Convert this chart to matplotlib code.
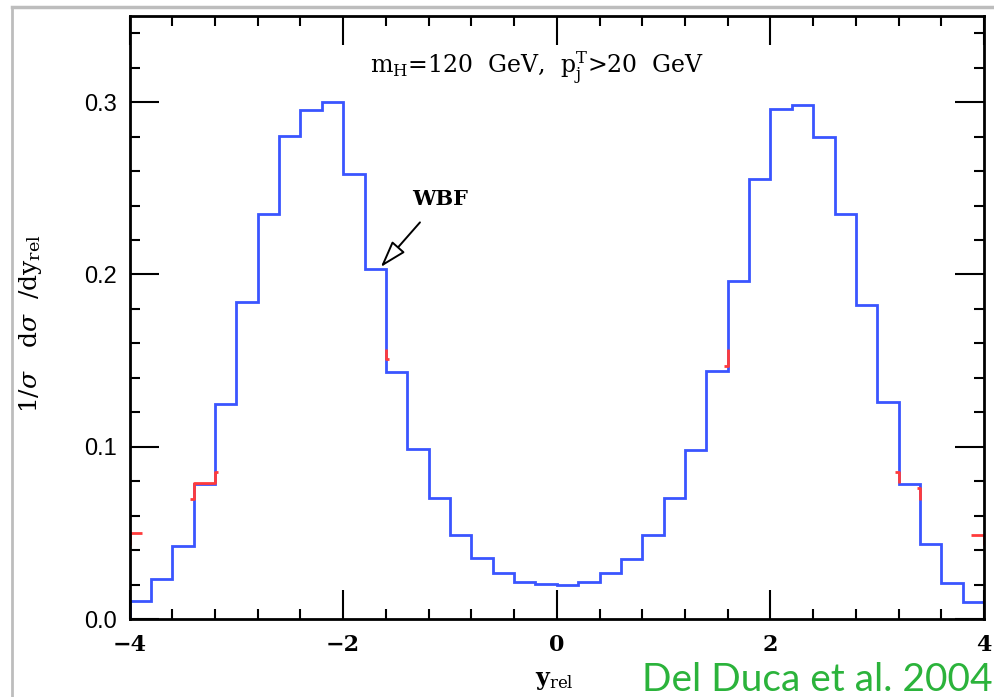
import numpy as np
import matplotlib
matplotlib.use('Agg')
import matplotlib.pyplot as plt
from matplotlib.lines import Line2D
from matplotlib.ticker import MultipleLocator

# bin edges of the rapidity histogram (width 0.2)
edges = np.linspace(-4, 4, 41)

# WBF distribution
wbf = [0.0106, 0.023, 0.0425, 0.0784, 0.1247, 0.184, 0.2353, 0.2805, 0.2956, 0.300,
       0.2585, 0.203, 0.1434, 0.0988, 0.070, 0.049, 0.0357, 0.0268, 0.0214, 0.0205,
       0.0199, 0.0212, 0.0268, 0.035, 0.049, 0.070, 0.0983, 0.144, 0.196, 0.2556,
       0.2963, 0.2985, 0.280, 0.2349, 0.1824, 0.1259, 0.0786, 0.0438, 0.021, 0.0098]

# second (red) curve, only visible where it peeks out from under the blue one
red_x = [[-4.0, -4.0, -3.88],
         [-3.43, -3.40, -3.40, -3.20, -3.20, -3.17],
         [-1.60, -1.60, -1.57],
         [1.57, 1.60, 1.60],
         [3.17, 3.20, 3.20],
         [3.37, 3.40, 3.40],
         [3.88, 4.0, 4.0]]
red_y = [[0.043, 0.050, 0.050],
         [0.0697, 0.0697, 0.079, 0.079, 0.0855, 0.0855],
         [0.157, 0.151, 0.151],
         [0.147, 0.147, 0.157],
         [0.0855, 0.0855, 0.079],
         [0.076, 0.076, 0.069],
         [0.049, 0.049, 0.043]]

plt.rcParams['mathtext.fontset'] = 'dejavuserif'

fig = plt.figure(figsize=(9.94, 6.97), dpi=100)
ax = fig.add_axes([0.1303, 0.1119, 0.8597, 0.8651])

for xs, ys in zip(red_x, red_y):
    ax.plot(xs, ys, color='#ff3b3b', lw=2.0, solid_capstyle='butt')
ax.stairs(wbf, edges, baseline=0, color='#3a55ff', lw=2.0)

ax.set_xlim(-4, 4)
ax.set_ylim(0, 0.35)

ax.xaxis.set_major_locator(MultipleLocator(2))
ax.xaxis.set_minor_locator(MultipleLocator(0.4))
ax.yaxis.set_major_locator(MultipleLocator(0.1))
ax.yaxis.set_minor_locator(MultipleLocator(0.02))
ax.set_yticks([0.0, 0.1, 0.2, 0.3])
ax.set_yticklabels(['0.0', '0.1', '0.2', '0.3'])
ax.set_xticks([-4, -2, 0, 2, 4])
ax.set_xticklabels(['\u22124', '\u22122', '0', '2', '4'])

ax.tick_params(which='both', direction='in', top=True, right=True, width=1.5)
ax.tick_params(which='major', length=21)
ax.tick_params(which='minor', length=7.5)
ax.tick_params(axis='y', labelsize=17, pad=9)
ax.tick_params(axis='x', labelsize=16, pad=11)
for lab in ax.get_yticklabels():
    lab.set_family('Liberation Sans')
for lab in ax.get_xticklabels():
    lab.set_family('DejaVu Serif')
    lab.set_weight('bold')

for s in ax.spines.values():
    s.set_linewidth(2.0)

ax.text(-0.18, 0.320, r'm$_{\rm H}$=120  GeV,  p$_{\rm j}^{\rm T}$>20  GeV',
        family='DejaVu Serif', fontsize=17, ha='center', va='center')

ax.annotate('WBF', xy=(-1.648, 0.2043), xytext=(-1.09, 0.2437),
            family='DejaVu Serif', fontsize=15, weight='bold',
            ha='center', va='center',
            arrowprops=dict(arrowstyle='-|>,head_length=1.1,head_width=0.35',
                            facecolor='white', edgecolor='black', lw=1.4,
                            shrinkA=10, shrinkB=0))

fig.text(0.031, 0.536, r'1/$\sigma$   d$\sigma$  /dy$_{\rm rel}$',
         family='DejaVu Serif', fontsize=18,
         rotation=90, ha='center', va='center')
fig.text(0.558, 0.024, r'y$_{\rm rel}$', family='DejaVu Serif', fontsize=17,
         weight='bold', ha='center', va='center')

fig.text(0.9985, 0.008, 'Del Duca et al. 2004', family='Lato', fontsize=28,
         color='#2bb33b', ha='right', va='baseline')

# light grey screenshot border
fig.add_artist(Line2D([0.012, 1.0], [0.990, 0.990], color='#bdbdbd', lw=2.5))
fig.add_artist(Line2D([0.012, 0.012], [0.0, 0.990], color='#bdbdbd', lw=2.0))

fig.savefig('out.png', dpi=100)
